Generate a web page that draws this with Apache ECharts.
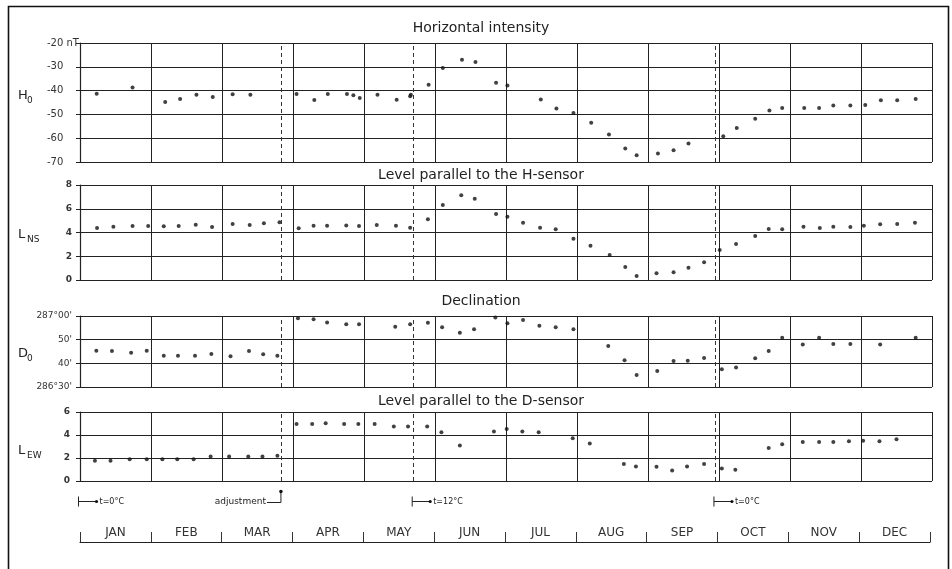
<!DOCTYPE html>
<html><head><meta charset="utf-8">
<script src="https://cdn.jsdelivr.net/npm/echarts@6/dist/echarts.min.js"></script>
<style>html,body{margin:0;padding:0;background:#fff}#c{width:952px;height:569px}</style>
</head><body><div id="c"></div>
<script>
const months = ['JAN','FEB','MAR','APR','MAY','JUN','JUL','AUG','SEP','OCT','NOV','DEC'];

// Horizontal intensity H0 (nT); x in months from 1 Jan
const hX = [0.235,0.74,1.2,1.41,1.64,1.87,2.15,2.4,3.05,3.3,3.49,3.76,3.85,3.94,4.19,4.46,4.65,4.66,4.91,5.11,5.38,5.57,5.86,6.02,6.49,6.71,6.95,7.2,7.45,7.68,7.84,8.14,8.36,8.57,9.06,9.25,9.51,9.71,9.89,10.2,10.41,10.61,10.85,11.06,11.28,11.51,11.77];
const hY = [-41.3,-38.7,-44.8,-43.5,-41.7,-42.7,-41.5,-41.7,-41.4,-44,-41.4,-41.4,-42,-43.1,-41.7,-43.8,-42.4,-41.7,-37.5,-30.5,-27,-28,-36.7,-37.9,-43.7,-47.5,-49.4,-53.5,-58.4,-64.3,-67.2,-66.4,-65.1,-62.2,-59.2,-55.7,-51.8,-48.4,-47.3,-47.3,-47.3,-46.3,-46.3,-46,-44.1,-44.1,-43.5];

// Level parallel to the H-sensor L_NS
const nsX = [0.24,0.47,0.74,0.96,1.18,1.39,1.63,1.86,2.15,2.39,2.59,2.81,3.08,3.29,3.48,3.75,3.93,4.18,4.45,4.65,4.9,5.11,5.37,5.56,5.86,6.02,6.24,6.48,6.7,6.95,7.19,7.46,7.68,7.84,8.12,8.36,8.57,8.79,9.01,9.24,9.51,9.7,9.89,10.19,10.42,10.61,10.85,11.04,11.27,11.51,11.76];
const nsY = [4.38,4.49,4.55,4.55,4.52,4.55,4.66,4.46,4.72,4.63,4.77,4.86,4.35,4.57,4.57,4.6,4.55,4.63,4.57,4.41,5.11,6.32,7.13,6.85,5.56,5.33,4.83,4.41,4.27,3.48,2.89,2.1,1.09,0.34,0.56,0.65,1.04,1.49,2.53,3.03,3.7,4.29,4.27,4.49,4.38,4.49,4.46,4.57,4.69,4.72,4.83];

// Declination D0 (minutes after 286°)
const dX = [0.23,0.45,0.72,0.94,1.18,1.38,1.62,1.85,2.12,2.38,2.58,2.78,3.07,3.29,3.48,3.75,3.93,4.44,4.65,4.9,5.1,5.35,5.55,5.85,6.02,6.24,6.47,6.7,6.95,7.44,7.67,7.84,8.13,8.36,8.56,8.79,9.04,9.24,9.51,9.7,9.89,10.18,10.41,10.61,10.85,11.27,11.77];
const dY = [45.3,45.2,44.5,45.3,43.2,43.2,43.2,43.9,43.0,45.2,43.8,43.2,59.0,58.6,57.3,56.5,56.5,55.5,56.5,57.2,55.2,52.9,54.4,59.4,56.9,58.3,55.9,55.2,54.4,47.3,41.3,35.1,36.8,41.0,41.1,42.3,37.5,38.2,42.1,45.2,50.8,48.0,50.8,48.2,48.2,48.0,50.8];

// Level parallel to the D-sensor L_EW
const ewX = [0.21,0.43,0.7,0.94,1.16,1.37,1.6,1.84,2.1,2.37,2.57,2.78,3.05,3.27,3.46,3.72,3.92,4.15,4.42,4.62,4.89,5.09,5.35,5.83,6.01,6.23,6.46,6.94,7.18,7.66,7.83,8.12,8.34,8.55,8.79,9.04,9.23,9.7,9.89,10.18,10.41,10.61,10.83,11.03,11.26,11.5];
const ewY = [1.76,1.76,1.9,1.9,1.9,1.9,1.9,2.13,2.13,2.13,2.13,2.19,4.96,4.96,5.02,4.96,4.96,4.96,4.73,4.73,4.73,4.24,3.08,4.3,4.53,4.3,4.24,3.72,3.26,1.47,1.26,1.24,0.92,1.26,1.47,1.09,0.98,2.86,3.2,3.4,3.4,3.4,3.46,3.49,3.46,3.64];

// Events (dashed lines) and annotations
const eventX = [2.83, 4.70, 8.95];
const annX = [0, 2.83, 4.70, 8.95];
const annText = ['t=0°C', 'adjustment', 't=12°C', 't=0°C'];

const titles = ['Horizontal intensity', 'Level parallel to the H-sensor', 'Declination', 'Level parallel to the D-sensor'];
const dLabels = {60: "287°00'", 50: "50'", 40: "40'", 30: "286°30'"};

const FONT = 'DejaVu Sans';
const INK = '#1a1a1a';
const gridLine = {color: '#222', width: 1};

const grids = [
  {left: 80, right: 20, top: 43, height: 119},
  {left: 80, right: 20, top: 185, height: 95},
  {left: 80, right: 20, top: 316, height: 71},
  {left: 80, right: 20, top: 412, height: 69},
  {left: 80, right: 22, top: 541, height: 1}
].map(g => Object.assign({outerBoundsMode: 'none', containLabel: false}, g));

function xAx(i) {
  return {gridIndex: i, type: 'value', min: 0, max: 12, interval: 1,
    axisLine: {show: false}, axisTick: {show: false}, axisLabel: {show: false},
    splitLine: {show: true, lineStyle: gridLine}};
}
function yAx(i, min, max, interval, label) {
  return Object.assign({gridIndex: i, type: 'value', min, max, interval,
    axisLine: {show: true, onZero: false, lineStyle: {color: '#222', width: 1.2}},
    axisTick: {show: true, length: 4, lineStyle: {color: '#222'}},
    splitLine: {show: true, lineStyle: gridLine}}, {axisLabel: label});
}
const labBase = {color: '#333', fontFamily: FONT, fontSize: 9};

function scat(i, xs, ys) {
  return {type: 'scatter', xAxisIndex: i, yAxisIndex: i, symbol: 'circle', symbolSize: 4,
    itemStyle: {color: '#111'}, silent: true,
    data: xs.map((x, k) => [x, ys[k]]),
    markLine: {silent: true, symbol: 'none', animation: false, label: {show: false},
      lineStyle: {color: '#333', type: [4, 3], width: 1},
      data: eventX.map(v => ({xAxis: v}))}
  };
}

const chart = echarts.init(document.getElementById('c'));
chart.setOption({
  animation: false,
  backgroundColor: '#fff',
  grid: grids,
  xAxis: [xAx(0), xAx(1), xAx(2), xAx(3), {
    gridIndex: 4, type: 'category', data: months, position: 'top', boundaryGap: true,
    axisLine: {show: true, lineStyle: {color: '#222', width: 1.2}},
    axisTick: {show: true, inside: false, length: 10, alignWithLabel: false, lineStyle: {color: '#333'}},
    axisLabel: {margin: 2, color: '#333', fontFamily: FONT, fontSize: 12},
    splitLine: {show: false}
  }],
  yAxis: [
    yAx(0, -70, -20, 10, Object.assign({}, labBase, {fontSize: 10, align: 'left', margin: 33,
      formatter: v => v === -20 ? '-20 nT' : String(v)})),
    yAx(1, 0, 8, 2, Object.assign({}, labBase, {margin: 8, fontWeight: 'bold'})),
    yAx(2, 30, 60, 10, Object.assign({}, labBase, {margin: 8, formatter: v => dLabels[v] || ''})),
    yAx(3, 0, 6, 2, Object.assign({}, labBase, {margin: 10, fontWeight: 'bold'})),
    {gridIndex: 4, type: 'value', show: false}
  ],
  series: [scat(0, hX, hY), scat(1, nsX, nsY), scat(2, dX, dY), scat(3, ewX, ewY)]
});

// Decorations: titles, axis names, annotations, frame
const titleY = [28, 175, 301, 401];
const names = [['H', '0', 96], ['L', 'NS', 235], ['D', '0', 354], ['L', 'EW', 451]];
const g = [];
g.push({type: 'rect', shape: {x: 8.5, y: 6.5, width: 940, height: 600}, style: {fill: 'none', stroke: '#111', lineWidth: 1.6}, silent: true});
titles.forEach((t, i) => g.push({type: 'text', x: 481, y: titleY[i],
  style: {text: t, fontFamily: FONT, fontSize: 14, fill: '#222', align: 'center', verticalAlign: 'middle'}}));
names.forEach(n => {
  g.push({type: 'text', x: 18, y: n[2], style: {text: n[0], fontFamily: FONT, fontSize: 13, fill: '#222', align: 'left', verticalAlign: 'middle'}});
  g.push({type: 'text', x: 27, y: n[2] + 5, style: {text: n[1], fontFamily: FONT, fontSize: 9, fill: '#222', align: 'left', verticalAlign: 'middle'}});
});
const yBase = chart.convertToPixel({yAxisIndex: 3}, 0) + 20.5;
annX.forEach((v, i) => {
  const px = chart.convertToPixel({xAxisIndex: 3}, v);
  const ls = {stroke: '#222', lineWidth: 1};
  if (i === 1) {
    g.push({type: 'polyline', shape: {points: [[px - 14, yBase + 1], [px, yBase + 1], [px, yBase - 10]]}, style: ls});
    g.push({type: 'circle', shape: {cx: px, cy: yBase - 10, r: 1.8}, style: {fill: '#111'}});
    g.push({type: 'text', x: px - 15, y: yBase, style: {text: annText[i], fontFamily: FONT, fontSize: 9, fill: '#222', align: 'right', verticalAlign: 'middle'}});
  } else {
    const b = px - 1.5;
    g.push({type: 'line', shape: {x1: b, y1: yBase - 5, x2: b, y2: yBase + 5}, style: ls});
    g.push({type: 'line', shape: {x1: b, y1: yBase, x2: b + 17, y2: yBase}, style: ls});
    g.push({type: 'circle', shape: {cx: b + 18, cy: yBase, r: 1.6}, style: {fill: '#111'}});
    g.push({type: 'text', x: b + 21, y: yBase, style: {text: annText[i], fontFamily: FONT, fontSize: 8, fill: '#222', align: 'left', verticalAlign: 'middle'}});
  }
});
chart.setOption({graphic: g});
</script></body></html>
